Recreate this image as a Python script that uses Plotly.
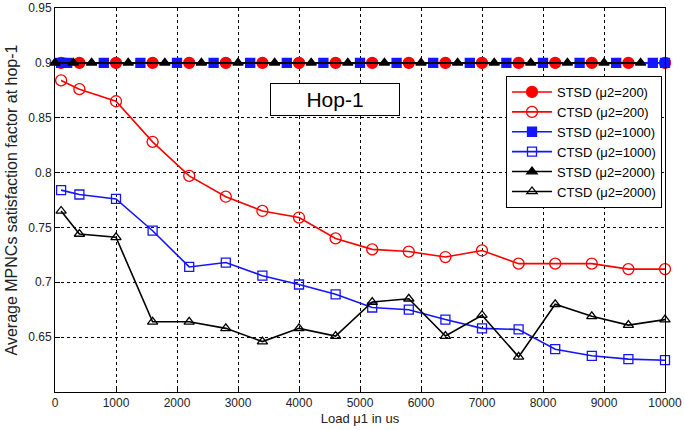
import plotly.graph_objects as go

# ---- data ----
x_ctsd = [100, 400, 1000, 1600, 2200, 2800, 3400, 4000, 4600, 5200, 5800,
          6400, 7000, 7600, 8200, 8800, 9400, 10000]
ctsd_200 = [0.884, 0.876, 0.865, 0.828, 0.797, 0.778, 0.765, 0.759, 0.740, 0.730,
            0.728, 0.723, 0.729, 0.717, 0.717, 0.717, 0.712, 0.712]
ctsd_1000 = [0.784, 0.780, 0.776, 0.747, 0.714, 0.718, 0.706, 0.698, 0.689, 0.677,
             0.675, 0.666, 0.658, 0.657, 0.639, 0.633, 0.630, 0.629]
ctsd_2000 = [0.765, 0.744, 0.741, 0.664, 0.664, 0.658, 0.646, 0.658, 0.651, 0.682,
             0.685, 0.651, 0.670, 0.632, 0.680, 0.669, 0.661, 0.666]

x_stsd_200 = [100, 400, 1000, 1600, 2200, 2800, 3400, 4000, 4600, 5200, 5800,
              6400, 7000, 7600, 8200, 8800, 9400, 10000]
x_stsd_1000 = [100, 200, 800, 1400, 2000, 2600, 3200, 3800, 4400, 5000, 5600,
               6200, 6800, 7400, 8000, 8600, 9200, 9800, 10000]
x_stsd_2000 = [0, 300, 600, 1200, 1800, 2400, 3000, 3600, 4200, 4800, 5400,
               6000, 6600, 7200, 7800, 8400, 9000, 9600]
stsd_value = 0.9

x_ticks = [0, 1000, 2000, 3000, 4000, 5000, 6000, 7000, 8000, 9000, 10000]
x_tick_labels = ["0", "1000", "2000", "3000", "4000", "5000", "6000", "7000",
                 "8000", "9000", "10000"]
y_ticks = [0.65, 0.7, 0.75, 0.8, 0.85, 0.9, 0.95]
y_tick_labels = ["0.65", "0.7", "0.75", "0.8", "0.85", "0.9", "0.95"]

RED = "#ff0000"
BLUE = "#1414ff"
BLACK = "#000000"
FONT = "Liberation Sans, Arial"

fig = go.Figure()

def add(x, y, name, color, symbol, size):
    fig.add_trace(go.Scatter(
        x=x, y=y, name=name, mode="lines+markers",
        line=dict(color=color, width=1.6),
        marker=dict(symbol=symbol, size=size, color=color,
                    line=dict(color=color, width=1.3)),
        cliponaxis=False,
    ))

add(x_stsd_200, [stsd_value] * len(x_stsd_200), "STSD (μ2=200)", RED, "circle", 11)
add(x_ctsd, ctsd_200, "CTSD (μ2=200)", RED, "circle-open", 11)
add(x_stsd_1000, [stsd_value] * len(x_stsd_1000), "STSD (μ2=1000)", BLUE, "square", 9)
add(x_ctsd, ctsd_1000, "CTSD (μ2=1000)", BLUE, "square-open", 9)
add(x_stsd_2000, [stsd_value] * len(x_stsd_2000), "STSD (μ2=2000)", BLACK, "triangle-up", 9)
add(x_ctsd, ctsd_2000, "CTSD (μ2=2000)", BLACK, "triangle-up-open", 9)

axis_common = dict(
    showline=True, linecolor="black", linewidth=1, mirror=True,
    ticks="inside", ticklen=5, tickcolor="black",
    showgrid=True, gridcolor="black", gridwidth=1, griddash="3px,3px",
    zeroline=False, automargin=False,
    tickfont=dict(family=FONT, size=12, color="#222"),
)

L, R, T, B = 55, 665, 8, 392

fig.update_xaxes(range=[0, 10000], tickvals=x_ticks, ticktext=x_tick_labels,
                 title=dict(text="Load μ1 in us", standoff=4,
                            font=dict(family=FONT, size=13, color="#222")),
                 **axis_common)
fig.update_yaxes(range=[0.6, 0.95], tickvals=y_ticks, ticktext=y_tick_labels,
                 title=dict(text="Average MPNCs satisfaction factor at hop-1", standoff=6,
                            font=dict(family=FONT, size=16, color="#222")),
                 **axis_common)

fig.add_annotation(
    x=(335 - L) / (R - L), y=1 - (99.5 - T) / (B - T),
    xref="paper", yref="paper", xanchor="center", yanchor="middle",
    text="Hop-1", showarrow=False,
    font=dict(family=FONT, size=21, color="black"),
    bordercolor="black", borderwidth=1, bgcolor="white",
    width=126, height=29,
)

fig.update_layout(
    width=685, height=430,
    margin=dict(l=L, r=685 - R, t=T, b=430 - B, autoexpand=False),
    plot_bgcolor="white", paper_bgcolor="white",
    showlegend=True,
    legend=dict(
        x=(662 - L) / (R - L), xanchor="right",
        y=1 - (76 - T) / (B - T), yanchor="top",
        bgcolor="white", bordercolor="black", borderwidth=1,
        font=dict(family=FONT, size=13, color="black"),
        tracegroupgap=0, itemwidth=40,
    ),
)

fig.write_html("out.html", config={"displayModeBar": False},
               post_script="document.body.style.margin='0';")
